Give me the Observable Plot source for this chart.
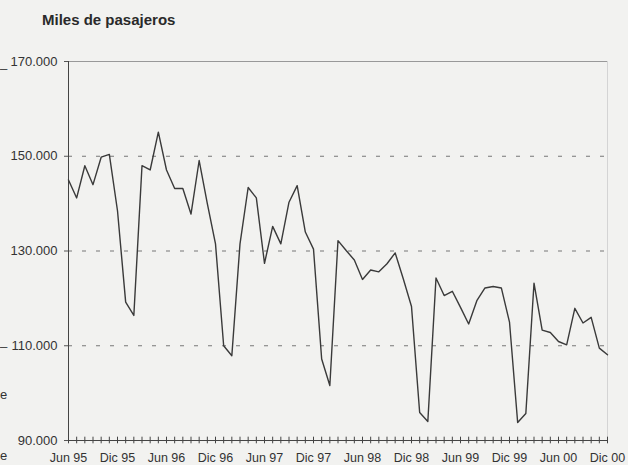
<!DOCTYPE html>
<html><head><meta charset="utf-8">
<script src="https://cdn.jsdelivr.net/npm/d3@7"></script>
<script src="https://cdn.jsdelivr.net/npm/@observablehq/plot@0.6"></script>
<style>
html,body{margin:0;padding:0;background:#f2f2f0;}
#wrap{position:relative;width:628px;height:465px;overflow:hidden;font-family:"Liberation Sans",Arial,sans-serif;}
#title{position:absolute;left:42px;top:11px;font-size:15px;font-weight:bold;color:#2a2a2a;}
#chart{position:absolute;left:0;top:0;}
.stray{position:absolute;font-size:13px;color:#333;line-height:1;}
</style></head><body>
<div id="wrap">
<div id="chart"></div>
<div id="title">Miles de pasajeros</div>
<div class="stray" style="left:0;top:56px;">_</div>
<div class="stray" style="left:0;top:334px;">_</div>
<div class="stray" style="left:0;top:388px;">e</div>
<div class="stray" style="left:0;top:449px;">e</div>
</div>
<script>
// Monthly series Jun 95 .. Dic 00 (thousands of passengers)
const passengers = [
  145.0, 141.2, 148.0, 144.0, 149.8, 150.4, 138.5,                          // 1995 Jun-Dic
  119.2, 116.4, 148.0, 147.1, 155.1, 147.1, 143.2, 143.2, 137.8, 149.1, 140.0, 131.5, // 1996
  110.0, 107.9, 131.5, 143.4, 141.2, 127.4, 135.2, 131.5, 140.3, 143.8, 134.0, 130.4, // 1997
  107.2, 101.6, 132.2, 130.1, 128.1, 124.0, 126.0, 125.6, 127.3, 129.6, 124.1, 118.3, // 1998
  95.9, 94.0, 124.3, 120.6, 121.5, 118.1, 114.6, 119.5, 122.2, 122.5, 122.2, 115.0,   // 1999
  93.8, 95.7, 123.2, 113.3, 112.8, 110.9, 110.2, 117.9, 114.8, 116.0, 109.5, 108.1    // 2000
];
const xTickLabels = ["Jun 95","Dic 95","Jun 96","Dic 96","Jun 97","Dic 97","Jun 98","Dic 98","Jun 99","Dic 99","Jun 00","Dic 00"];
const yTicks = [90000, 110000, 130000, 150000, 170000];
const gridValues = [110000, 130000, 150000];

const data = passengers.map((v, i) => ({i, v: v * 1000}));
const monthIdx = data.map(d => d.i);
const labelIdx = xTickLabels.map((_, k) => k * 6);
const fmt = d => d3.format(",")(d).replace(/,/g, ".");

const chart = Plot.plot({
  width: 628, height: 465,
  marginLeft: 68, marginRight: 21, marginTop: 61, marginBottom: 25,
  style: {background: "transparent", fontFamily: "'Liberation Sans', Arial, sans-serif", color: "#333"},
  x: {domain: [0, passengers.length - 1], axis: null},
  y: {domain: [90000, 170000], axis: null},
  marks: [
    Plot.ruleY(gridValues, {stroke: "#777", strokeDasharray: "4,10", strokeWidth: 1}),
    Plot.ruleY([170000], {stroke: "#999", strokeWidth: 1}),
    Plot.ruleX([passengers.length - 1], {stroke: "#d4d4d4", strokeWidth: 1}),
    Plot.ruleX(monthIdx, {x: d => d, y1: 89300, y2: 90700, stroke: "#444", strokeWidth: 1}),
    Plot.axisY({ticks: yTicks, tickFormat: fmt, tickSize: 4, tickPadding: 7, fontSize: 13, stroke: "#555", fill: "#333", label: null}),
    Plot.axisX({ticks: labelIdx, tickFormat: i => xTickLabels[i / 6], tickSize: 0, tickPadding: 13, fontSize: 12.5, fill: "#333", label: null}),
    Plot.ruleX([0], {stroke: "#444", strokeWidth: 1}),
    Plot.ruleY([90000], {stroke: "#444", strokeWidth: 1.2}),
    Plot.line(data, {x: "i", y: "v", stroke: "#3a3a3a", strokeWidth: 1.4})
  ]
});
document.getElementById("chart").appendChild(chart);
</script>
</body></html>
